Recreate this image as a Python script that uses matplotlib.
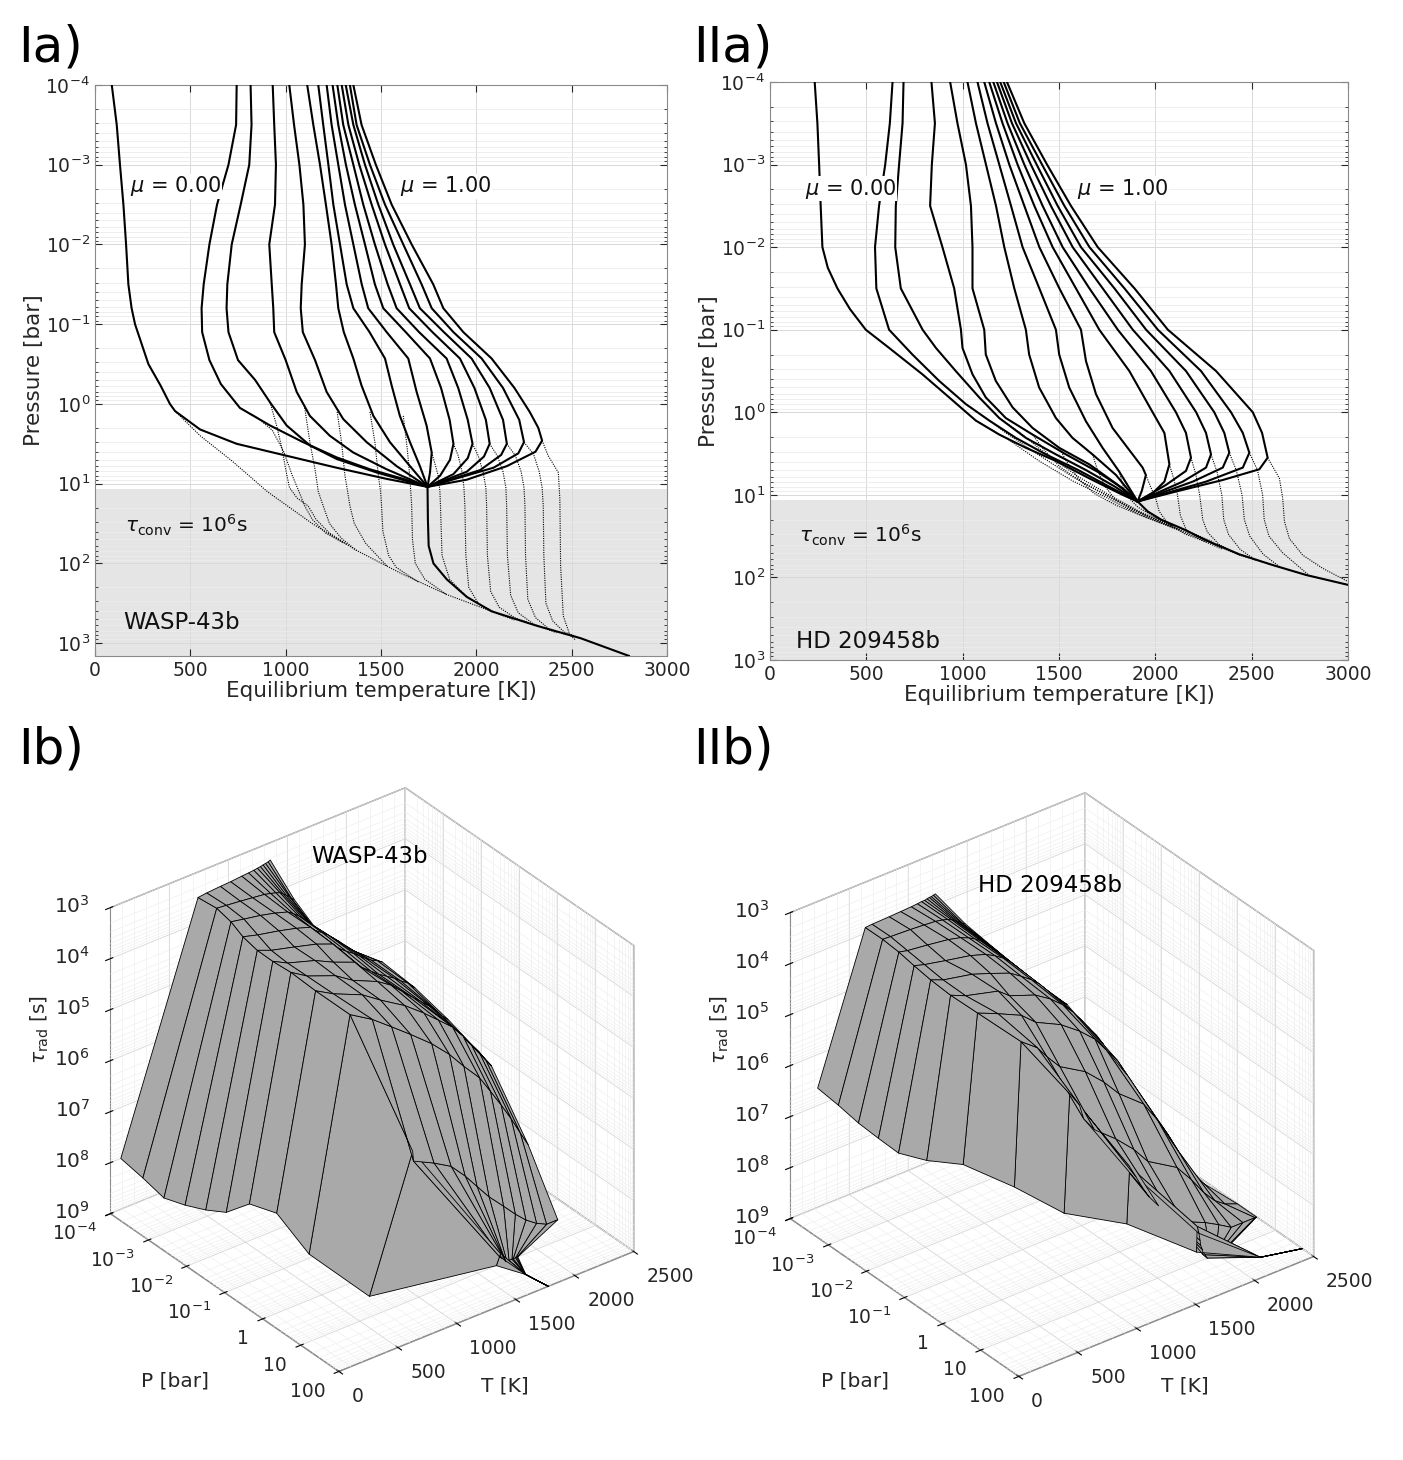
import numpy as np
import matplotlib
matplotlib.use("Agg")
import matplotlib.pyplot as plt
from matplotlib.ticker import LogLocator, NullFormatter

plt.rcParams['font.family'] = 'DejaVu Sans'
plt.rcParams['mathtext.fontset'] = 'dejavusans'

# ---------------------------------------------------------------
# Panel Ia / IIa : T-P profiles, temperature in K, pressure as log10(P / bar)
# solid = computed profile, dotted = pure radiative continuation
# ---------------------------------------------------------------
WASP_SOLID_T = [
    [88, 114, 131, 149, 163, 175, 192, 210, 280, 344, 393, 420, 551, 743, 1005, 1267, 1530, 1744],
    [743, 740, 700, 640, 600, 570, 559, 562, 600, 660, 760, 918, 1092, 1267, 1442, 1617, 1744],
    [816, 821, 809, 764, 717, 694, 690, 700, 750, 840, 918, 1005, 1127, 1267, 1477, 1744],
    [932, 940, 949, 944, 914, 927, 935, 940, 1000, 1058, 1127, 1232, 1355, 1530, 1744],
    [1019, 1044, 1072, 1093, 1101, 1084, 1079, 1090, 1154, 1215, 1302, 1425, 1582, 1744],
    [1113, 1145, 1180, 1211, 1241, 1264, 1276, 1305, 1355, 1398, 1460, 1547, 1652, 1744],
    [1171, 1197, 1224, 1250, 1285, 1320, 1355, 1440, 1521, 1556, 1599, 1652, 1704, 1744],
    [1215, 1241, 1276, 1311, 1355, 1399, 1433, 1530, 1643, 1687, 1739, 1766, 1757, 1744],
    [1246, 1276, 1316, 1363, 1416, 1468, 1512, 1630, 1757, 1815, 1860, 1880, 1862, 1810, 1744],
    [1271, 1302, 1355, 1407, 1468, 1535, 1582, 1700, 1844, 1905, 1955, 1980, 1955, 1880, 1744],
    [1294, 1329, 1386, 1451, 1521, 1600, 1648, 1770, 1914, 1990, 2050, 2070, 2040, 1950, 1744],
    [1315, 1355, 1416, 1486, 1564, 1652, 1704, 1830, 1975, 2070, 2140, 2160, 2130, 2020, 1744],
    [1337, 1372, 1442, 1521, 1617, 1713, 1766, 1880, 2028, 2140, 2225, 2250, 2220, 2090, 1744],
    [1355, 1398, 1473, 1556, 1661, 1774, 1827, 1932, 2080, 2200, 2280, 2325, 2345, 2310, 2160, 1950, 1744],
]
WASP_SOLID_LOGP = [
    [-4, -3.5, -3, -2.5, -2, -1.5, -1.2, -1.0, -0.5, -0.23, 0, 0.09, 0.32, 0.50, 0.65, 0.80, 0.94, 1.04],
    [-4, -3.5, -3, -2.5, -2, -1.5, -1.2, -0.9, -0.55, -0.25, 0.05, 0.27, 0.48, 0.67, 0.82, 0.94, 1.04],
    [-4, -3.5, -3, -2.5, -2, -1.5, -1.2, -0.9, -0.55, -0.3, -0.02, 0.27, 0.52, 0.69, 0.86, 1.04],
    [-4, -3.5, -3, -2.5, -2, -1.5, -1.2, -0.9, -0.55, -0.15, 0.15, 0.4, 0.61, 0.82, 1.04],
    [-4, -3.5, -3, -2.5, -2, -1.5, -1.2, -0.9, -0.55, -0.15, 0.19, 0.48, 0.78, 1.04],
    [-4, -3.5, -3, -2.5, -2, -1.5, -1.2, -0.9, -0.57, -0.23, 0.15, 0.48, 0.78, 1.04],
    [-4, -3.5, -3, -2.5, -2, -1.5, -1.2, -0.9, -0.57, -0.23, 0.15, 0.48, 0.78, 1.04],
    [-4, -3.5, -3, -2.5, -2, -1.5, -1.2, -0.9, -0.57, -0.15, 0.27, 0.61, 0.86, 1.04],
    [-4, -3.5, -3, -2.5, -2, -1.5, -1.2, -0.9, -0.57, -0.2, 0.2, 0.5, 0.7, 0.9, 1.04],
    [-4, -3.5, -3, -2.5, -2, -1.5, -1.2, -0.9, -0.57, -0.2, 0.2, 0.5, 0.68, 0.88, 1.04],
    [-4, -3.5, -3, -2.5, -2, -1.5, -1.2, -0.9, -0.57, -0.2, 0.2, 0.5, 0.66, 0.85, 1.04],
    [-4, -3.5, -3, -2.5, -2, -1.5, -1.2, -0.9, -0.57, -0.2, 0.2, 0.5, 0.64, 0.83, 1.04],
    [-4, -3.5, -3, -2.5, -2, -1.5, -1.2, -0.9, -0.57, -0.2, 0.2, 0.48, 0.62, 0.8, 1.04],
    [-4, -3.5, -3, -2.5, -2, -1.5, -1.2, -0.9, -0.57, -0.2, 0.1, 0.3, 0.46, 0.6, 0.78, 0.95, 1.04],
]
WASP_DOT_T = [
    [420, 552, 716, 904, 1139, 1374, 1609, 1844, 2079],
    [760, 850, 930, 990, 1035, 1070, 1100, 1140, 1210, 1300],
    [918, 950, 980, 1000, 1020, 1060, 1118, 1160, 1230, 1320],
    [1100, 1127, 1154, 1171, 1197, 1230, 1290, 1372],
    [1270, 1293, 1311, 1325, 1337, 1360, 1420, 1530],
    [1442, 1468, 1486, 1498, 1503, 1510, 1540, 1580, 1700],
    [1617, 1638, 1652, 1656, 1661, 1665, 1680, 1730, 1844],
    [1766, 1783, 1800, 1809, 1812, 1820, 1860, 1950, 2079],
    [1880, 1905, 1925, 1935, 1940, 1945, 1960, 2010, 2100, 2200],
    [1980, 2010, 2035, 2050, 2054, 2058, 2075, 2120, 2200, 2314],
    [2070, 2110, 2140, 2155, 2159, 2163, 2180, 2220, 2300, 2420],
    [2160, 2205, 2235, 2250, 2255, 2258, 2270, 2310, 2380, 2480],
    [2250, 2300, 2330, 2345, 2351, 2354, 2365, 2400, 2460, 2549],
    [2345, 2377, 2430, 2438, 2440, 2442, 2456, 2491, 2520],
]
WASP_DOT_LOGP = [
    [0.09, 0.40, 0.71, 1.10, 1.50, 1.84, 2.13, 2.39, 2.60],
    [0.05, 0.17, 0.33, 0.6, 0.9, 1.1, 1.28, 1.45, 1.62, 1.74],
    [-0.02, 0.25, 0.55, 0.82, 1.05, 1.18, 1.28, 1.45, 1.62, 1.76],
    [0.05, 0.48, 0.82, 1.1, 1.28, 1.5, 1.68, 1.84],
    [0.1, 0.48, 0.9, 1.1, 1.28, 1.5, 1.75, 2.03],
    [0.1, 0.48, 0.9, 1.1, 1.28, 1.6, 1.9, 2.05, 2.24],
    [0.15, 0.57, 0.94, 1.1, 1.28, 1.7, 2.0, 2.2, 2.39],
    [0.61, 0.75, 0.9, 1.1, 1.28, 1.9, 2.2, 2.42, 2.6],
    [0.5, 0.65, 0.85, 1.05, 1.28, 1.9, 2.3, 2.5, 2.62, 2.71],
    [0.5, 0.65, 0.85, 1.05, 1.28, 1.9, 2.35, 2.55, 2.68, 2.78],
    [0.5, 0.65, 0.85, 1.05, 1.28, 1.9, 2.4, 2.62, 2.76, 2.87],
    [0.5, 0.65, 0.85, 1.05, 1.28, 1.9, 2.45, 2.68, 2.82, 2.9],
    [0.48, 0.63, 0.85, 1.05, 1.28, 1.9, 2.5, 2.72, 2.86, 2.94],
    [0.46, 0.65, 0.86, 1.19, 1.6, 2.03, 2.66, 2.9, 2.96],
]
WASP_DEEP_T = [1744, 1746, 1750, 1775, 1845, 1950, 2079, 2314, 2549, 2800]
WASP_DEEP_LOGP = [1.04, 1.45, 1.78, 2.0, 2.2, 2.42, 2.6, 2.78, 2.94, 3.16]

HD_SOLID_T = [
    [232, 246, 255, 263, 272, 300, 350, 415, 497, 618, 791, 930, 1068, 1190, 1328, 1484, 1657, 1830, 1908],
    [636, 622, 598, 566, 545, 552, 618, 739, 878, 1016, 1138, 1276, 1432, 1600, 1760, 1908],
    [693, 688, 670, 653, 650, 679, 792, 861, 964, 1086, 1190, 1328, 1484, 1640, 1790, 1908],
    [838, 856, 840, 831, 895, 956, 991, 999, 1051, 1120, 1224, 1363, 1536, 1700, 1830, 1908],
    [935, 973, 1017, 1043, 1051, 1051, 1112, 1120, 1172, 1259, 1363, 1501, 1657, 1800, 1908],
    [1025, 1069, 1121, 1173, 1216, 1268, 1328, 1345, 1397, 1484, 1570, 1674, 1796, 1908],
    [1077, 1129, 1190, 1251, 1311, 1398, 1484, 1501, 1553, 1640, 1726, 1813, 1908],
    [1112, 1173, 1242, 1320, 1398, 1502, 1614, 1640, 1692, 1778, 1882, 1934, 1951, 1930, 1908],
    [1138, 1207, 1285, 1372, 1467, 1588, 1709, 1865, 1986, 2047, 2073, 2047, 1986, 1908],
    [1159, 1233, 1320, 1415, 1519, 1658, 1805, 1977, 2107, 2159, 2185, 2159, 2055, 1908],
    [1178, 1256, 1354, 1458, 1571, 1727, 1883, 2073, 2212, 2263, 2289, 2263, 2142, 1986, 1908],
    [1195, 1277, 1384, 1493, 1614, 1788, 1952, 2159, 2306, 2358, 2384, 2350, 2194, 2003, 1908],
    [1213, 1297, 1412, 1528, 1658, 1840, 2013, 2237, 2393, 2454, 2488, 2454, 2263, 2055, 1908],
    [1230, 1320, 1438, 1562, 1701, 1892, 2065, 2315, 2506, 2554, 2583, 2540, 2350, 2107, 1908],
]
HD_SOLID_LOGP = [
    [-4, -3.5, -3, -2.5, -2, -1.75, -1.5, -1.25, -1.0, -0.78, -0.46, -0.18, 0.1, 0.27, 0.43, 0.59, 0.80, 1.0, 1.08],
    [-4, -3.5, -3, -2.5, -2, -1.5, -1.0, -0.70, -0.38, -0.1, 0.1, 0.31, 0.51, 0.70, 0.90, 1.08],
    [-4, -3.5, -3, -2.5, -2, -1.5, -1.0, -0.78, -0.5, -0.18, 0.07, 0.31, 0.51, 0.70, 0.9, 1.08],
    [-4, -3.5, -3, -2.5, -2, -1.5, -1.0, -0.78, -0.46, -0.18, 0.07, 0.27, 0.51, 0.72, 0.92, 1.08],
    [-4, -3.5, -3, -2.5, -2, -1.5, -1.0, -0.70, -0.38, -0.06, 0.19, 0.43, 0.63, 0.87, 1.08],
    [-4, -3.5, -3, -2.5, -2, -1.5, -1.0, -0.7, -0.3, 0.07, 0.31, 0.51, 0.76, 1.08],
    [-4, -3.5, -3, -2.5, -2, -1.5, -1.0, -0.7, -0.3, 0.11, 0.43, 0.72, 1.08],
    [-4, -3.5, -3, -2.5, -2, -1.5, -1.0, -0.62, -0.22, 0.19, 0.51, 0.67, 0.76, 0.95, 1.08],
    [-4, -3.5, -3, -2.5, -2, -1.5, -1.0, -0.5, 0.0, 0.25, 0.63, 0.84, 0.98, 1.08],
    [-4, -3.5, -3, -2.5, -2, -1.5, -1.0, -0.5, 0.0, 0.25, 0.55, 0.71, 0.88, 1.08],
    [-4, -3.5, -3, -2.5, -2, -1.5, -1.0, -0.5, 0.0, 0.25, 0.51, 0.67, 0.84, 1.0, 1.08],
    [-4, -3.5, -3, -2.5, -2, -1.5, -1.0, -0.5, 0.0, 0.25, 0.49, 0.67, 0.84, 1.0, 1.08],
    [-4, -3.5, -3, -2.5, -2, -1.5, -1.0, -0.5, 0.0, 0.25, 0.49, 0.67, 0.84, 0.98, 1.08],
    [-4, -3.5, -3, -2.5, -2, -1.5, -1.0, -0.5, 0.0, 0.25, 0.55, 0.69, 0.82, 0.96, 1.08],
]
HD_DOT_T = [
    [1068, 1224, 1397, 1570, 1744, 1917, 2090, 2263, 2436, 2609, 2782, 3000],
    [1138, 1224, 1397, 1570, 1744, 1917, 2090],
    [1190, 1300, 1430, 1600, 1760, 1917, 2090],
    [1363, 1420, 1500, 1620, 1780, 1950, 2100],
    [1501, 1540, 1600, 1680, 1800, 1950, 2120],
    [1674, 1700, 1740, 1790, 1880, 2000, 2180],
    [1813, 1830, 1860, 1910, 2000, 2150, 2300],
    [1951, 1975, 2003, 2020, 2060, 2150, 2263],
    [2073, 2095, 2115, 2130, 2160, 2240, 2350],
    [2185, 2210, 2230, 2246, 2270, 2330, 2436],
    [2289, 2320, 2345, 2355, 2380, 2440, 2520],
    [2384, 2420, 2450, 2462, 2490, 2560, 2650],
    [2488, 2530, 2557, 2565, 2590, 2660, 2800],
    [2583, 2644, 2661, 2670, 2696, 2765, 2869, 3000],
]
HD_DOT_LOGP = [
    [0.1, 0.31, 0.59, 0.83, 1.03, 1.24, 1.40, 1.56, 1.73, 1.85, 1.97, 2.09],
    [0.1, 0.25, 0.52, 0.78, 1.0, 1.21, 1.38],
    [0.07, 0.25, 0.5, 0.78, 1.0, 1.2, 1.38],
    [0.27, 0.45, 0.65, 0.85, 1.05, 1.25, 1.40],
    [0.43, 0.6, 0.8, 0.98, 1.13, 1.27, 1.42],
    [0.51, 0.7, 0.9, 1.05, 1.18, 1.3, 1.47],
    [0.72, 0.88, 1.03, 1.15, 1.27, 1.42, 1.57],
    [0.76, 0.9, 1.05, 1.2, 1.33, 1.47, 1.57],
    [0.63, 0.8, 1.0, 1.25, 1.42, 1.55, 1.66],
    [0.55, 0.75, 1.0, 1.3, 1.45, 1.6, 1.73],
    [0.51, 0.72, 1.0, 1.3, 1.48, 1.66, 1.79],
    [0.49, 0.7, 1.0, 1.3, 1.5, 1.72, 1.88],
    [0.49, 0.7, 1.0, 1.3, 1.5, 1.7, 1.98],
    [0.55, 0.80, 1.04, 1.32, 1.53, 1.73, 1.89, 2.05],
]
HD_DEEP_T = [1908, 1960, 2030, 2150, 2263, 2436, 2609, 2782, 3000]
HD_DEEP_LOGP = [1.08, 1.2, 1.3, 1.42, 1.55, 1.72, 1.85, 1.97, 2.09]

# ---------------------------------------------------------------
# Panel Ib / IIb : radiative timescale along each profile (one row per profile)
# ---------------------------------------------------------------
WASP_MESH_LOGP = [-4, -3.5, -3, -2.5, -2, -1.5, -1, -0.5, 0, 0.5, 1, 1.5, 2]
WASP_MESH_T = [
    [88, 114, 131, 149, 163, 175, 210, 280, 393, 743, 1658, 1746, 1775],
    [743, 740, 700, 640, 600, 570, 562, 610, 740, 1110, 1693, 1746, 1775],
    [816, 821, 809, 764, 717, 694, 697, 760, 928, 1117, 1685, 1746, 1775],
    [932, 940, 949, 944, 914, 927, 938, 1005, 1092, 1290, 1705, 1746, 1775],
    [1019, 1044, 1072, 1093, 1101, 1084, 1086, 1160, 1253, 1435, 1719, 1746, 1775],
    [1113, 1145, 1180, 1211, 1241, 1264, 1295, 1365, 1432, 1554, 1730, 1746, 1775],
    [1171, 1197, 1224, 1250, 1285, 1320, 1410, 1528, 1582, 1655, 1738, 1746, 1775],
    [1215, 1241, 1276, 1311, 1355, 1399, 1500, 1650, 1705, 1757, 1747, 1746, 1775],
    [1246, 1276, 1316, 1363, 1416, 1468, 1590, 1770, 1838, 1880, 1765, 1746, 1775],
    [1271, 1302, 1355, 1407, 1468, 1535, 1660, 1857, 1930, 1980, 1790, 1746, 1775],
    [1294, 1329, 1386, 1451, 1521, 1600, 1730, 1930, 2020, 2070, 1800, 1746, 1775],
    [1315, 1355, 1416, 1486, 1564, 1652, 1790, 1995, 2105, 2160, 1820, 1746, 1775],
    [1337, 1372, 1442, 1521, 1617, 1713, 1840, 2050, 2182, 2245, 1830, 1746, 1775],
    [1355, 1398, 1473, 1556, 1661, 1774, 1895, 2100, 2250, 2340, 1840, 1746, 1775],
]
WASP_MESH_LOGTAU = [
    [8.0, 8.15, 8.3, 8.2, 8.05, 7.85, 7.46, 7.45, 8.1, 9.0, 9.0, 9.0, 9.0],
    [3.5, 3.45, 3.42, 3.4, 3.37, 3.3, 3.25, 3.4, 3.73, 6.5, 8.8, 9.0, 9.0],
    [3.48, 3.47, 3.47, 3.48, 3.48, 3.45, 3.45, 3.6, 4.0, 6.7, 8.85, 9.0, 9.0],
    [3.46, 3.5, 3.53, 3.57, 3.6, 3.62, 3.67, 3.85, 4.3, 6.9, 8.9, 9.0, 9.0],
    [3.45, 3.53, 3.6, 3.66, 3.72, 3.8, 3.9, 4.1, 4.6, 7.1, 8.9, 9.0, 9.0],
    [3.43, 3.56, 3.68, 3.75, 3.85, 3.97, 4.12, 4.4, 4.95, 7.4, 8.95, 9.0, 9.0],
    [3.42, 3.59, 3.75, 3.85, 3.97, 4.12, 4.3, 4.7, 5.3, 7.7, 9.0, 9.0, 9.0],
    [3.41, 3.62, 3.85, 3.95, 4.1, 4.27, 4.5, 4.95, 5.65, 8.0, 9.0, 9.0, 9.0],
    [3.4, 3.65, 3.95, 4.05, 4.2, 4.4, 4.7, 5.2, 6.0, 8.3, 9.0, 9.0, 9.0],
    [3.39, 3.7, 4.05, 4.15, 4.3, 4.5, 4.85, 5.45, 6.35, 8.55, 9.0, 9.0, 9.0],
    [3.38, 3.75, 4.15, 4.25, 4.4, 4.6, 5.0, 5.7, 6.7, 8.75, 9.0, 9.0, 9.0],
    [3.37, 3.8, 4.25, 4.35, 4.47, 4.7, 5.15, 5.9, 7.05, 8.9, 9.0, 9.0, 9.0],
    [3.36, 3.85, 4.35, 4.45, 4.53, 4.8, 5.3, 6.1, 7.4, 9.0, 9.0, 9.0, 9.0],
    [3.34, 3.9, 4.45, 4.52, 4.6, 4.95, 5.43, 6.27, 7.7, 9.0, 9.0, 9.0, 9.0],
]
HD_MESH_LOGP = [-4, -3.5, -3, -2.5, -2, -1.5, -1, -0.5, 0, 0.5, 1, 1.5, 1.7]
HD_MESH_T = [
    [232, 246, 255, 263, 272, 350, 497, 770, 1030, 1400, 1830, 2210, 2500],
    [636, 622, 598, 566, 545, 552, 618, 826, 1077, 1424, 1835, 2210, 2500],
    [693, 688, 670, 653, 650, 679, 792, 964, 1160, 1478, 1850, 2210, 2500],
    [838, 856, 840, 831, 895, 956, 991, 1045, 1195, 1530, 1860, 2210, 2500],
    [935, 973, 1017, 1043, 1051, 1051, 1112, 1155, 1285, 1590, 1865, 2210, 2500],
    [1025, 1069, 1121, 1173, 1216, 1268, 1328, 1370, 1467, 1670, 1880, 2210, 2500],
    [1077, 1129, 1190, 1251, 1311, 1398, 1484, 1527, 1620, 1765, 1885, 2210, 2500],
    [1112, 1173, 1242, 1320, 1398, 1502, 1614, 1656, 1740, 1880, 1920, 2210, 2500],
    [1138, 1207, 1285, 1372, 1467, 1588, 1709, 1865, 1986, 2065, 1950, 2210, 2500],
    [1159, 1233, 1320, 1415, 1519, 1658, 1805, 1977, 2107, 2180, 1990, 2210, 2500],
    [1178, 1256, 1354, 1458, 1571, 1727, 1883, 2073, 2212, 2285, 1986, 2210, 2500],
    [1195, 1277, 1384, 1493, 1614, 1788, 1952, 2159, 2306, 2384, 2003, 2210, 2500],
    [1213, 1297, 1412, 1528, 1658, 1840, 2013, 2237, 2393, 2487, 2040, 2210, 2500],
    [1230, 1320, 1438, 1562, 1701, 1892, 2065, 2315, 2500, 2500, 2060, 2210, 2500],
]
HD_MESH_LOGTAU = [
    [6.66, 6.75, 6.85, 6.9, 6.94, 6.9, 6.86, 7.3, 7.8, 8.1, 8.8, 9.0, 9.0],
    [3.89, 3.85, 3.82, 3.8, 3.8, 3.85, 4.0, 4.5, 5.5, 7.0, 8.3, 9.0, 9.0],
    [3.88, 3.86, 3.86, 3.86, 3.9, 3.98, 4.18, 4.75, 5.8, 7.25, 8.45, 9.0, 9.0],
    [3.87, 3.88, 3.91, 3.95, 4.02, 4.15, 4.4, 5.0, 6.1, 7.5, 8.6, 9.0, 9.0],
    [3.86, 3.9, 3.97, 4.05, 4.15, 4.33, 4.65, 5.3, 6.4, 7.75, 8.7, 9.0, 9.0],
    [3.85, 3.92, 4.03, 4.15, 4.3, 4.52, 4.9, 5.6, 6.75, 8.0, 8.8, 9.0, 9.0],
    [3.84, 3.95, 4.1, 4.25, 4.45, 4.72, 5.17, 5.95, 7.1, 8.25, 8.9, 9.0, 9.0],
    [3.83, 3.98, 4.17, 4.36, 4.6, 4.93, 5.45, 6.3, 7.45, 8.5, 9.0, 9.0, 9.0],
    [3.83, 4.02, 4.24, 4.47, 4.75, 5.15, 5.75, 6.7, 7.8, 8.7, 9.0, 9.0, 9.0],
    [3.82, 4.06, 4.31, 4.58, 4.9, 5.37, 6.05, 7.1, 8.15, 8.85, 9.0, 9.0, 9.0],
    [3.81, 4.1, 4.39, 4.7, 5.05, 5.6, 6.4, 7.5, 8.5, 9.0, 9.0, 9.0, 9.0],
    [3.81, 4.13, 4.46, 4.8, 5.17, 5.8, 6.75, 7.9, 8.75, 9.0, 9.0, 9.0, 9.0],
    [3.8, 4.17, 4.53, 4.9, 5.27, 6.0, 7.1, 8.3, 8.9, 9.0, 9.0, 9.0, 9.0],
    [3.79, 4.2, 4.6, 5.0, 5.37, 6.25, 7.4, 8.6, 9.0, 9.0, 9.0, 9.0, 9.0],
]

CONV_P = 11.5          # top of the convective (gray) region, bar
P_TICKS_3D = ['$10^{-4}$', '$10^{-3}$', '$10^{-2}$', '$10^{-1}$', '1', '10', '100']
T_TICKS_3D = ['0', '500', '1000', '1500', '2000', '2500']
TAU_TICKS_3D = ['$10^{%d}$' % k for k in range(3, 10)]

W, H = 1403, 1460
fig = plt.figure(figsize=(W / 100, H / 100), dpi=100)
INK = '#262626'


def px_rect(left, top, right, bottom):
    return [left / W, 1 - bottom / H, (right - left) / W, (bottom - top) / H]


def profile_panel(rect, solid_t, solid_lp, dot_t, dot_lp, deep_t, deep_lp, pbot, texts):
    ax = fig.add_axes(rect)
    ax.axhspan(CONV_P, pbot, color='#e5e5e5', zorder=0.2, lw=0)
    for t, lp in zip(dot_t, dot_lp):
        ax.plot(t, 10 ** np.array(lp), color='k', lw=0.8, ls=(0, (1, 1.1)), zorder=2)
    for t, lp in zip(solid_t, solid_lp):
        ax.plot(t, 10 ** np.array(lp), color='k', lw=1.5, zorder=3)
    ax.plot(deep_t, 10 ** np.array(deep_lp), color='k', lw=1.5, zorder=3)

    ax.set_yscale('log')
    ax.set_xlim(0, 3000)
    ax.set_ylim(pbot, 1e-4)
    ax.set_xticks(range(0, 3001, 500))
    ax.yaxis.set_major_locator(LogLocator(base=10, numticks=12))
    ax.yaxis.set_minor_locator(LogLocator(base=10, subs=np.arange(2, 10), numticks=120))
    ax.yaxis.set_minor_formatter(NullFormatter())
    ax.set_axisbelow(True)
    ax.grid(True, which='major', color='#d9d9d9', lw=0.7)
    ax.grid(True, which='minor', axis='y', color='#ebebeb', lw=0.6)
    ax.tick_params(which='both', direction='in', top=True, right=True,
                   colors=INK, labelsize=13.5)
    ax.tick_params(which='major', length=5)
    ax.tick_params(which='minor', length=2.5)
    for s in ax.spines.values():
        s.set_color('#8a8a8a')
        s.set_linewidth(0.8)
    ax.set_xlabel('Equilibrium temperature [K])', fontsize=15.5, color=INK, labelpad=1)
    ax.set_ylabel('Pressure [bar]', fontsize=15.5, color=INK, labelpad=1)

    for (x, lp, s, fs, box) in texts:
        kw = dict(fontsize=fs, ha='left', va='center', color='#111111', zorder=5)
        if box:
            kw['bbox'] = dict(facecolor='white', edgecolor='none', pad=0.5)
        ax.text(x, 10 ** lp, s, **kw)
    return ax


profile_panel(px_rect(95, 85, 667, 656),
              WASP_SOLID_T, WASP_SOLID_LOGP, WASP_DOT_T, WASP_DOT_LOGP,
              WASP_DEEP_T, WASP_DEEP_LOGP, 1.45e3,
              [(184, -2.73, r'$\mu$ = 0.00', 15, True),
               (1600, -2.73, r'$\mu$ = 1.00', 15, True),
               (157, 1.52, r'$\tau_{\mathrm{conv}}$ = 10$^6$s', 14.5, False),
               (147, 2.74, 'WASP-43b', 16.5, False)])

profile_panel(px_rect(770, 82, 1348, 660),
              HD_SOLID_T, HD_SOLID_LOGP, HD_DOT_T, HD_DOT_LOGP,
              HD_DEEP_T, HD_DEEP_LOGP, 1e3,
              [(182, -2.71, r'$\mu$ = 0.00', 15, True),
               (1595, -2.71, r'$\mu$ = 1.00', 15, True),
               (151, 1.49, r'$\tau_{\mathrm{conv}}$ = 10$^6$s', 14.5, False),
               (135, 2.78, 'HD 209458b', 16.5, False)])


def mesh_panel(rect, mesh_lp, mesh_t, mesh_tau):
    ax = fig.add_axes(rect, projection='3d', computed_zorder=False)
    ax.set_proj_type('ortho')
    ax.view_init(elev=32, azim=-37.5)
    ax.set_box_aspect((1.04, 1.03, 1.0), zoom=0.905)

    # light minor grid on the three back walls
    minor_z = [-(n + np.log10(k)) for n in range(3, 9) for k in range(2, 10)]
    minor_x = [n + np.log10(k) for n in range(-4, 2) for k in range(2, 10)]
    minor_t = [t for t in range(100, 2500, 100) if t % 500]
    gkw = dict(color='#ececec', lw=0.4, zorder=0.5)
    for z in minor_z:
        ax.plot([-4, -4], [0, 2500], [z, z], **gkw)
        ax.plot([-4, 2], [2500, 2500], [z, z], **gkw)
    for x in minor_x:
        ax.plot([x, x], [0, 2500], [-9, -9], **gkw)
        ax.plot([x, x], [2500, 2500], [-9, -3], **gkw)
    for t in minor_t:
        ax.plot([-4, -4], [t, t], [-9, -3], **gkw)
        ax.plot([-4, 2], [t, t], [-9, -9], **gkw)

    lp_grid = np.array([mesh_lp] * len(mesh_t), dtype=float)
    t_grid = np.array(mesh_t, dtype=float)
    z_grid = -np.array(mesh_tau, dtype=float)
    ax.plot_surface(lp_grid, t_grid, z_grid, rstride=1, cstride=1, color='#a9a9a9',
                    edgecolor='black', linewidth=0.6, shade=False, antialiased=True, zorder=3)

    ax.set_xlim(-4, 2)
    ax.set_ylim(0, 2500)
    ax.set_zlim(-9, -3)
    ax.set_xticks(range(-4, 3))
    ax.set_xticklabels(P_TICKS_3D, ha='right', va='center', fontsize=13.5, color=INK)
    ax.set_yticks(range(0, 2501, 500))
    ax.set_yticklabels(T_TICKS_3D, ha='left', va='center', fontsize=13.5, color=INK)
    ax.set_zticks(range(-9, -2))
    ax.set_zticklabels(TAU_TICKS_3D[::-1], ha='right', va='center', fontsize=14.5, color=INK)
    ax.zaxis.set_ticks_position('lower')
    for axis in (ax.xaxis, ax.yaxis, ax.zaxis):
        axis.set_pane_color((1, 1, 1, 1))
        axis.pane.set_edgecolor('#8a8a8a')
        axis.line.set_color('#8a8a8a')
        axis._axinfo['grid'].update(color='#d6d6d6', linewidth=0.6)
    ax.xaxis.set_tick_params(pad=4)
    ax.yaxis.set_tick_params(pad=6)
    ax.zaxis.set_tick_params(pad=2)
    return ax


mesh_panel([0.0086, 0.0192, 0.5, 0.47], WASP_MESH_LOGP, WASP_MESH_T, WASP_MESH_LOGTAU)
mesh_panel([0.4932, 0.0158, 0.5, 0.47], HD_MESH_LOGP, HD_MESH_T, HD_MESH_LOGTAU)

# axis titles of the 3-D panels
for dx in (0, 680):
    fig.text((175 + dx) / W, 1 - 1381 / H, 'P [bar]', fontsize=14.5, ha='center', va='center', color=INK)
    fig.text((505 + dx) / W, 1 - 1386 / H, 'T [K]', fontsize=14.5, ha='center', va='center', color=INK)
    fig.text((40 + dx) / W, 1 - 1030 / H, r'$\tau_{\mathrm{rad}}$ [s]', fontsize=14.5, rotation=90,
             ha='center', va='center', color=INK)
fig.text(370 / W, 1 - 857 / H, 'WASP-43b', fontsize=16.5, ha='center', va='center')
fig.text(1050 / W, 1 - 885 / H, 'HD 209458b', fontsize=16.5, ha='center', va='center')

for x, y, s in ((18, 61, 'Ia)'), (693, 61, 'IIa)'), (18, 764, 'Ib)'), (693, 764, 'IIb)')):
    fig.text(x / W, 1 - y / H, s, fontsize=36, ha='left', va='baseline')

fig.savefig('out.png', dpi=100)
